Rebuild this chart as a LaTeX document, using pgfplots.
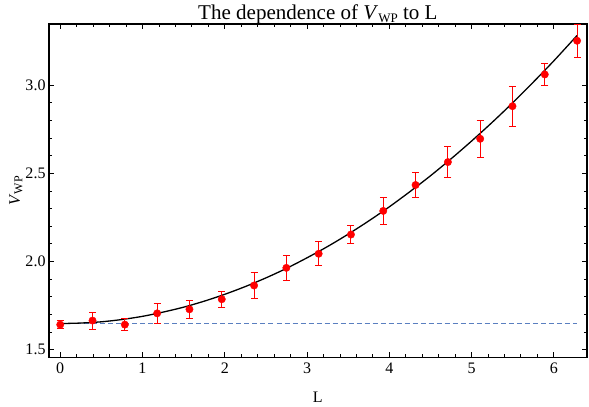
\documentclass[border=0pt]{standalone}
\usepackage{pgfplots}
\pgfplotsset{compat=1.18}
\usepackage{fontspec}
\setmainfont{Liberation Serif}
\definecolor{dashblue}{HTML}{5A7FC0}
\begin{document}
\begin{tikzpicture}
\begin{axis}[
  scale only axis,
  width=537pt, height=333pt,
  xmin=-0.136, xmax=6.40, ymin=1.456, ymax=3.347,
  xtick={0,1,2,3,4,5,6},
  minor x tick num=4,
  ytick={1.5,2.0,2.5,3.0},
  minor y tick num=4,
  yticklabel style={/pgf/number format/.cd,fixed,fixed zerofill,precision=1},
  /pgf/number format/assume math mode=true,
  tick align=inside,
  major tick length=5pt, minor tick length=3pt,
  tick style={black, line width=0.8pt},
  axis line style={black, line width=1.6pt},
  ticklabel style={font=\fontsize{16}{18}\selectfont},
  xticklabel style={yshift=-2pt},
  title={The dependence of \textit{V}\raisebox{-0.35ex}{\fontsize{13}{14}\selectfont WP} to L},
  title style={font=\fontsize{21}{23}\selectfont, at={(0.5,1)}, anchor=base, yshift=-1pt},
  xlabel={L},
  ylabel={\textit{V}\raisebox{-0.35ex}{\fontsize{12}{13}\selectfont WP}},
  label style={font=\fontsize{16}{18}\selectfont},
  xlabel style={yshift=-11pt},
  ylabel style={yshift=-4pt},
]
\addplot[draw=dashblue, line width=1.4pt, dash pattern=on 5pt off 3pt] coordinates {(0,1.650) (6.283,1.650)};
\addplot[black, line width=1.3pt, smooth] coordinates {
(0,1.648) (0.25,1.651) (0.5,1.658) (0.75,1.671) (1.0,1.689) (1.25,1.713) (1.5,1.741)
(1.75,1.775) (2.0,1.814) (2.25,1.858) (2.5,1.907) (2.75,1.961) (3.0,2.021)
(3.25,2.085) (3.5,2.155) (3.75,2.230) (4.0,2.310) (4.25,2.396) (4.5,2.486)
(4.75,2.582) (5.0,2.683) (5.25,2.789) (5.5,2.900) (5.75,3.017) (6.0,3.138) (6.283,3.282)};
\addplot[color=red, only marks, mark=*, mark size=3.7pt, mark options={draw=red, fill=red},
  error bars/.cd, y dir=both, y explicit,
  error bar style={draw=red, line width=1pt},
  error mark options={draw=red, rotate=90, mark size=3.5pt, line width=1pt}]
  table[x=x, y=y, y error=e] {
x y e
0 1.642 0.024
0.3927 1.665 0.048
0.7854 1.642 0.036
1.1781 1.706 0.057
1.5708 1.729 0.051
1.9635 1.786 0.045
2.3562 1.864 0.074
2.7489 1.964 0.070
3.1416 2.044 0.068
3.5343 2.153 0.050
3.9270 2.287 0.076
4.3197 2.434 0.070
4.7124 2.564 0.087
5.1051 2.696 0.104
5.4978 2.881 0.114
5.8905 3.061 0.060
6.2832 3.252 0.095
};
\end{axis}
\pgfresetboundingbox
\path ([shift={(-49pt,-49pt)}]current axis.south west) rectangle ([shift={(2.3pt,24pt)}]current axis.north east);
\end{tikzpicture}
\end{document}
